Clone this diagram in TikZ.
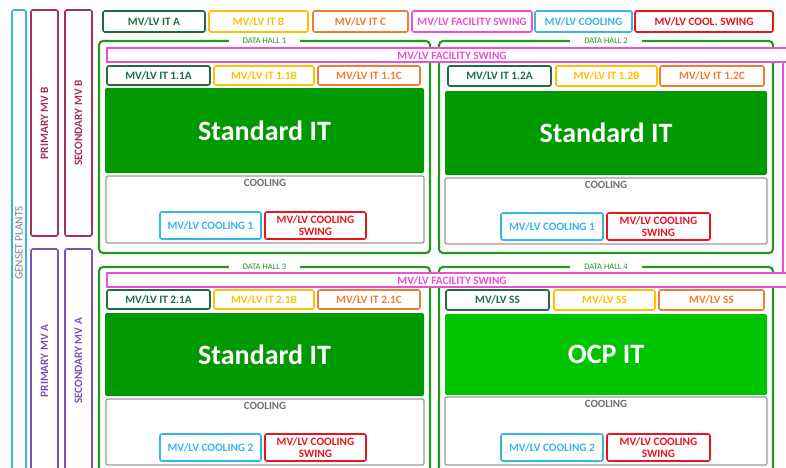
\documentclass[tikz,border=0pt]{standalone}
\usepackage{fontspec}
\setmainfont{Carlito}
\definecolor{cDG}{HTML}{1E6B45}
\definecolor{cYe}{HTML}{FFC000}
\definecolor{cOr}{HTML}{ED7D31}
\definecolor{cPk}{HTML}{EE4FD0}
\definecolor{cCy}{HTML}{35B6E6}
\definecolor{cRd}{HTML}{E8141E}
\definecolor{cMr}{HTML}{A3305E}
\definecolor{cPu}{HTML}{7D50B8}
\definecolor{cHall}{HTML}{1F9A1F}
\definecolor{cStd}{HTML}{009900}
\definecolor{cOcp}{HTML}{00C400}
\definecolor{cGr}{HTML}{9A9A9A}
\definecolor{cGt}{HTML}{707070}
\newcommand\bx[7]{\node[#6, minimum width={(#4-#2)*1pt}, minimum height={(#5-#3)*1pt}] (#1) at (#2,#3) {#7};}
\tikzset{
  base/.style={draw, rounded corners=2pt, line width=1.6pt, anchor=north west, inner sep=0pt, outer sep=0pt,
    font=\bfseries\fontsize{11.3}{12}\selectfont, align=center},
  dg/.style={base, draw=cDG, text=cDG},
  ye/.style={base, draw=cYe, text=cYe},
  orr/.style={base, draw=cOr, text=cOr},
  pk/.style={base, draw=cPk, text=cPk},
  cy/.style={base, draw=cCy, text=cCy},
  rd/.style={base, draw=cRd, text=cRd},
  mr/.style={base, draw=cMr},
  pu/.style={base, draw=cPu},
  gs/.style={base, draw=cCy},
  hall/.style={base, draw=cHall, line width=2.1pt, rounded corners=4pt},
  hlabel/.style={fill=white, text=cHall, font=\fontsize{8.5}{9}\selectfont, inner xsep=14pt, inner ysep=1pt},
  bar/.style={base, draw=cPk, fill=white, rounded corners=0pt},
  bartext/.style={text=cPk, font=\bfseries\fontsize{11.3}{12}\selectfont},
  std/.style={base, draw=none, fill=cStd, text=white, font=\bfseries\fontsize{28}{30}\selectfont},
  ocp/.style={base, draw=none, fill=cOcp, text=white, font=\bfseries\fontsize{28}{30}\selectfont},
  coolbox/.style={base, draw=cGr, line width=1.3pt},
  coolt/.style={text=cGt, font=\bfseries\fontsize{11}{12}\selectfont},
  vtext/.style={rotate=90, font=\bfseries\fontsize{11.3}{12}\selectfont},
}
\begin{document}
\begin{tikzpicture}[x=1pt,y=-1pt]
\useasboundingbox (0,0) rectangle (786,467);
\clip (0,0) rectangle (786,467);
% left columns
\bx{gen}{12}{10}{26}{476}{gs}{}
\node[vtext, font=\fontsize{11.3}{12}\selectfont, text=gray] (gent) at (gen.center) {GENSET PLANTS};
\bx{pmb}{31}{10}{58}{236}{mr}{}
\node[vtext, text=cMr] (pmbt) at (pmb.center) {PRIMARY MV B};
\bx{smb}{65}{10}{92}{236}{mr}{}
\node[vtext, text=cMr] (smbt) at (smb.center) {SECONDARY MV B};
\bx{pma}{31}{249}{58}{473}{pu}{}
\node[vtext, text=cPu] (pmat) at (pma.center) {PRIMARY MV A};
\bx{sma}{65}{249}{92}{473}{pu}{}
\node[vtext, text=cPu] (smat) at (sma.center) {SECONDARY MV A};
% top row
\bx{tA}{103}{11}{205}{32}{dg}{MV/LV IT A}
\bx{tB}{209}{11}{308}{32}{ye}{MV/LV IT B}
\bx{tC}{313}{11}{408}{32}{orr}{MV/LV IT C}
\bx{tF}{412}{11}{532}{32}{pk}{MV/LV FACILITY SWING}
\bx{tCo}{535}{11}{632}{32}{cy}{MV/LV COOLING}
\bx{tCs}{635}{11}{773}{32}{rd}{MV/LV COOL. SWING}
% data halls
\bx{dh1}{99}{41}{430}{253}{hall}{}
\bx{dh2}{439}{41}{773}{253}{hall}{}
\bx{dh3}{99}{267}{430}{490}{hall}{}
\bx{dh4}{439}{267}{773}{490}{hall}{}
\node[hlabel] (dh1l) at (dh1.north) {DATA HALL 1};
\node[hlabel] (dh2l) at (dh2.north) {DATA HALL 2};
\node[hlabel] (dh3l) at (dh3.north) {DATA HALL 3};
\node[hlabel] (dh4l) at (dh4.north) {DATA HALL 4};
% facility swing bars
\bx{bar1}{107}{48}{810}{62}{bar}{}
\bx{bar2}{107}{273}{810}{287}{bar}{}
\node[bartext] (bar1t) at (452,55.5) {MV/LV FACILITY SWING};
\node[bartext] (bar2t) at (452,280.5) {MV/LV FACILITY SWING};
\coordinate (pv1) at (783,62);
\coordinate (pv2) at (783,273);
\draw[cPk, line width=1.5pt] (pv1) -- (pv2);
% DH1
\bx{a11}{107}{66}{210}{85}{dg}{MV/LV IT 1.1A}
\bx{b11}{214}{66}{314}{85}{ye}{MV/LV IT 1.1B}
\bx{c11}{318}{66}{420}{85}{orr}{MV/LV IT 1.1C}
\bx{s1}{105}{88}{424}{173}{std}{Standard IT}
\bx{k1}{106}{176}{424}{243}{coolbox}{}
\node[coolt] (k1t) at ([yshift=-7pt]k1.north) {COOLING};
\bx{k1a}{160}{212}{261}{239}{cy}{MV/LV COOLING 1}
\bx{k1b}{265}{212}{366}{239}{rd}{MV/LV COOLING\\SWING}
% DH2
\bx{a12}{448}{66}{551}{86}{dg}{MV/LV IT 1.2A}
\bx{b12}{556}{66}{657}{86}{ye}{MV/LV IT 1.2B}
\bx{c12}{660}{66}{764}{86}{orr}{MV/LV IT 1.2C}
\bx{s2}{445}{91}{767}{175}{std}{Standard IT}
\bx{k2}{445}{178}{767}{244}{coolbox}{}
\node[coolt] (k2t) at ([yshift=-7pt]k2.north) {COOLING};
\bx{k2a}{501}{213}{603}{240}{cy}{MV/LV COOLING 1}
\bx{k2b}{607}{213}{710}{240}{rd}{MV/LV COOLING\\SWING}
% DH3
\bx{a21}{107}{290}{210}{309}{dg}{MV/LV IT 2.1A}
\bx{b21}{214}{290}{314}{309}{ye}{MV/LV IT 2.1B}
\bx{c21}{318}{290}{420}{309}{orr}{MV/LV IT 2.1C}
\bx{s3}{105}{313}{424}{396}{std}{Standard IT}
\bx{k3}{106}{399}{424}{465}{coolbox}{}
\node[coolt] (k3t) at ([yshift=-7pt]k3.north) {COOLING};
\bx{k3a}{160}{434}{261}{461}{cy}{MV/LV COOLING 2}
\bx{k3b}{265}{434}{366}{461}{rd}{MV/LV COOLING\\SWING}
% DH4
\bx{a22}{446}{290}{549}{310}{dg}{MV/LV SS}
\bx{b22}{554}{290}{655}{310}{ye}{MV/LV SS}
\bx{c22}{659}{290}{764}{310}{orr}{MV/LV SS}
\bx{s4}{445}{314}{767}{395}{ocp}{OCP IT}
\bx{k4}{445}{397}{767}{465}{coolbox}{}
\node[coolt] (k4t) at ([yshift=-7pt]k4.north) {COOLING};
\bx{k4a}{501}{434}{603}{461}{cy}{MV/LV COOLING 2}
\bx{k4b}{607}{434}{710}{461}{rd}{MV/LV COOLING\\SWING}
\end{tikzpicture}
\end{document}
